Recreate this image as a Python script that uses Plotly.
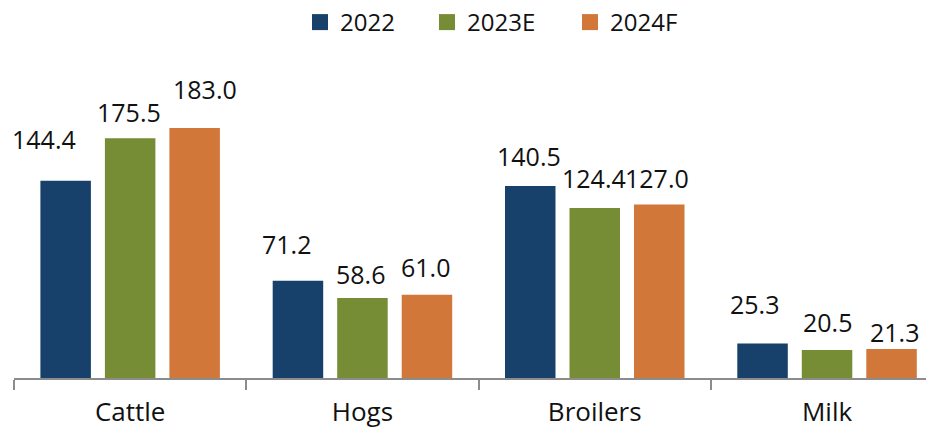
import plotly.graph_objects as go

categories = ["Cattle", "Hogs", "Broilers", "Milk"]
series_names = ["2022", "2023E", "2024F"]
values_2022 = [144.4, 71.2, 140.5, 25.3]
values_2023e = [175.5, 58.6, 124.4, 20.5]
values_2024f = [183.0, 61.0, 127.0, 21.3]

series_values = [values_2022, values_2023e, values_2024f]
colors = ["#17416B", "#768C35", "#D2773A"]

# label nudges (style only): pixel offsets for each label [series][category]
label_dx = [[-22, -11, -1, -8], [-1, -2, -1, 0], [10, -1, -2, 3]]
label_gap = [[33, 28, 21, 30], [17, 15, 21, 19], [30, 19, 18, 8]]
# legend entry left edges (style only), in page pixels
legend_left_px = [300, 427, 570]

FONT = "Open Sans"
bargap = 0.167
bargroupgap = 0.217
FIG_W, FIG_H = 926, 430

fig = go.Figure()
legend_ids = ["legend", "legend2", "legend3"]
for name, vals, col, lid in zip(series_names, series_values, colors, legend_ids):
    fig.add_trace(go.Bar(
        x=categories, y=vals, name=name, marker=dict(color=col, line=dict(width=0)),
        showlegend=False, hoverinfo="x+y+name"))
    fig.add_trace(go.Scatter(
        x=[None], y=[None], mode="markers", name=name, legend=lid,
        marker=dict(symbol="square", size=17, color=col), showlegend=True))

slot = (1 - bargap) / 3
annotations = []
for i, vals in enumerate(series_values):
    for j, v in enumerate(vals):
        annotations.append(dict(
            x=j + (i - 1) * slot, y=v, xref="x", yref="y",
            text=f"{v:.1f}", showarrow=False,
            xanchor="center", yanchor="middle",
            xshift=label_dx[i][j], yshift=label_gap[i][j] + 9,
            font=dict(family=FONT, size=25, color="#111111")))

legend_common = dict(orientation="h", xref="container", yref="container",
                     y=1.0, xanchor="left", yanchor="top",
                     bgcolor="rgba(0,0,0,0)", borderwidth=0,
                     font=dict(family=FONT, size=24, color="#111111"),
                     itemwidth=30)
layout_legends = {}
for lid, px in zip(legend_ids, legend_left_px):
    layout_legends[lid] = dict(legend_common, x=px / FIG_W)

fig.update_layout(
    width=FIG_W, height=FIG_H,
    margin=dict(l=14, r=0, t=70, b=52, autoexpand=False),
    paper_bgcolor="white", plot_bgcolor="white",
    barmode="group", bargap=bargap, bargroupgap=bargroupgap,
    font=dict(family=FONT, color="#111111"),
    annotations=annotations,
    xaxis=dict(range=[-0.5, 3.426], showline=True, linecolor="#8C8C8C", linewidth=1.5,
               ticks="outside", tickson="boundaries", ticklen=10, tickcolor="#8C8C8C",
               tickwidth=1.5, showgrid=False, zeroline=False, automargin=False,
               tickfont=dict(family=FONT, size=26, color="#111111"),
               ticklabelstandoff=10),
    yaxis=dict(range=[0, 225.5], visible=False, showgrid=False, zeroline=False),
    **layout_legends,
)

fig.write_html("out.html", config={"displayModeBar": False},
               post_script="document.body.style.margin='0';")
